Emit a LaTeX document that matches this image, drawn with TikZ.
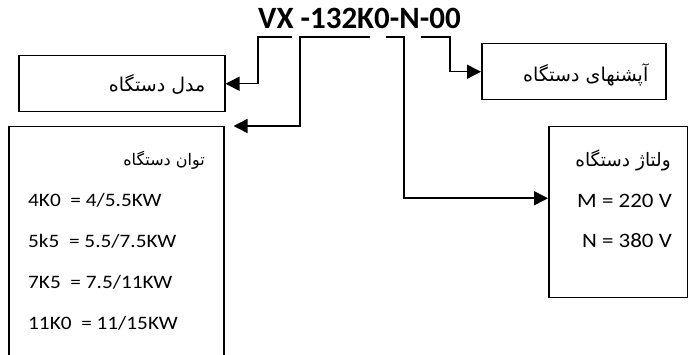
\documentclass[tikz,border=0pt]{standalone}
\usepackage{fontspec}
\setmainfont{Carlito}
\newfontfamily\bodyfont{Carlito}[FakeStretch=1.12]
\newfontfamily\farsi[Script=Arabic]{DejaVu Sans}
\TeXXeTstate=1
\usetikzlibrary{arrows.meta, positioning, calc}
\tikzset{
	box/.style   ={rectangle, draw=black, line width=1.5pt, inner sep=0pt, anchor=north west},
	conn/.style  ={-{Triangle[length=14pt, width=14pt]}, line width=1.5pt},
	fatext/.style={anchor=east, inner sep=0pt},
	entxt/.style ={inner sep=0pt, font=\bodyfont\fontsize{19}{22}\selectfont},
}

\begin{document}
\begin{tikzpicture}[x=1pt, y=-1pt]
	\clip (0,0) rectangle (688,355);
	\node[anchor=base west, inner sep=0pt, font=\bfseries\fontsize{31}{36}\selectfont] (code) at (258,29) {VX -132K0-N-00};
	% boxes
	\node[box, minimum width=206pt, minimum height=56pt] (model) at (18,55) {};
	\node[box, minimum width=215pt, minimum height=260pt] (power) at (8,126) {};
	\node[box, minimum width=184pt, minimum height=56pt] (opt) at (481,43) {};
	\node[box, minimum width=139pt, minimum height=171pt] (volt) at (548,126) {};
	% box texts
	\node[fatext, font=\farsi\fontsize{19}{22}\selectfont] (modelt) at ([xshift=-20pt, yshift=-1pt]model.east) {\beginR مدل دستگاه\endR};
	\node[fatext, font=\farsi\fontsize{19}{23}\selectfont] (optt) at ([xshift=-18pt, yshift=-3pt]opt.east) {\beginR آپشنهای دستگاه\endR};
	\node[fatext, font=\farsi\fontsize{16}{19}\selectfont] (powert) at (205,160) {\beginR توان دستگاه\endR};
	\node[entxt, anchor=base west] (p1) at (28,207) {4K0~ = 4/5.5KW};
	\node[entxt, anchor=base west] (p2) at (28,248) {5k5~ = 5.5/7.5KW};
	\node[entxt, anchor=base west] (p3) at (28,289) {7K5~ = 7.5/11KW};
	\node[entxt, anchor=base west] (p4) at (28,330) {11K0~ = 11/15KW};
	\node[fatext, font=\farsi\fontsize{18.5}{22}\selectfont] (voltt) at (671,160) {\beginR ولتاژ دستگاه\endR};
	\node[entxt, anchor=base east, font=\bodyfont\fontsize{20.5}{24}\selectfont] (v1) at (672,208) {M = 220 V};
	\node[entxt, anchor=base east, font=\bodyfont\fontsize{20.5}{24}\selectfont] (v2) at (672,248) {N = 380 V};
	% brackets under the code
	\coordinate (vxL) at (258,37);
	\coordinate (vxR) at (292,37);
	\coordinate (pwL) at (300,37);
	\coordinate (pwR) at (370,37);
	\coordinate (vlL) at (386,37);
	\coordinate (vlR) at (404,37);
	\coordinate (opL) at (421,37);
	\coordinate (opR) at (450,37);
	\draw[conn] (vxR) -- (vxL) |- (model.east);
	\draw[conn] (pwR) -- (pwL) |- ([xshift=9pt]power.north east);
	\draw[conn] (vlL) -- (vlR) |- ([yshift=14pt]volt.west);
	\draw[conn] (opL) -- (opR) |- (opt.west);
\end{tikzpicture}
\end{document}
